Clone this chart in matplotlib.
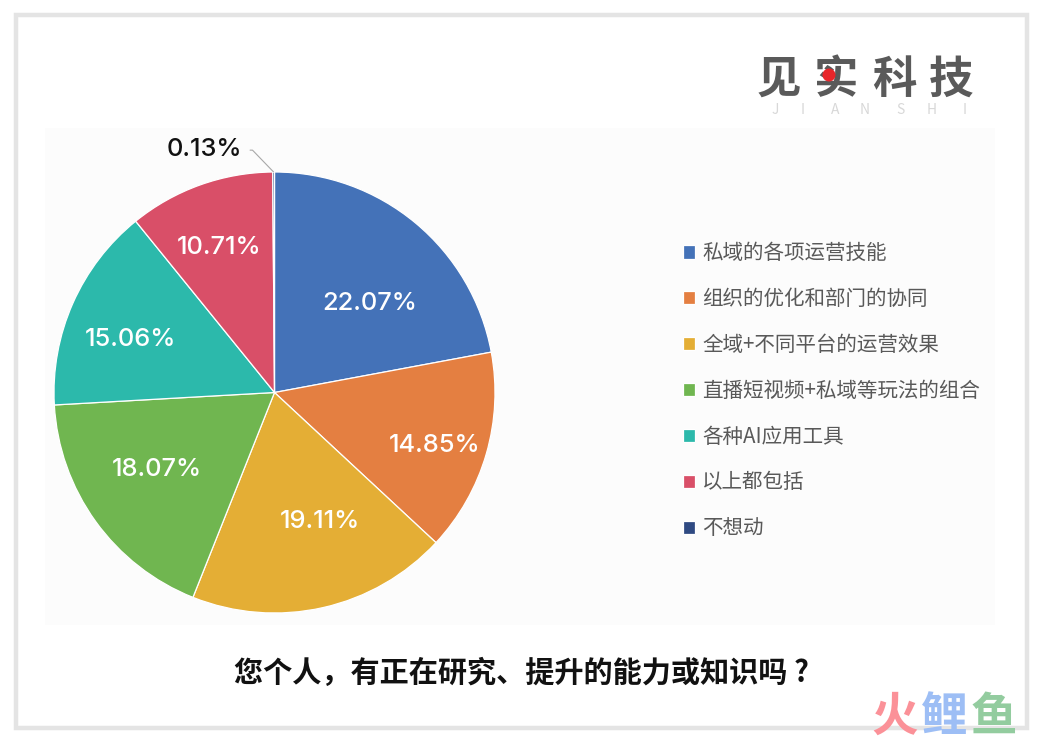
import numpy as np
import matplotlib
matplotlib.use("Agg")
import matplotlib.pyplot as plt
from matplotlib.patches import Rectangle, Circle

categories = ["私域的各项运营技能", "组织的优化和部门的协同", "全域+不同平台的运营效果",
              "直播短视频+私域等玩法的组合", "各种AI应用工具", "以上都包括", "不想动"]
values = [22.07, 14.85, 19.11, 18.07, 15.06, 10.71, 0.13]
colors = ["#4472B8", "#E47F41", "#E4AE35", "#70B650", "#2CB9AB", "#D94F68", "#2F4A82"]
title = "您个人，有正在研究、提升的能力或知识吗 ?"

W, H = 1040, 740
CJK = ["Noto Sans CJK SC", "DejaVu Sans"]
plt.rcParams["font.family"] = CJK

fig = plt.figure(figsize=(W / 100, H / 100), dpi=100, facecolor="white")

# overlay canvas in pixel units
bg = fig.add_axes([0, 0, 1, 1], zorder=0)
bg.set_xlim(0, W); bg.set_ylim(H, 0); bg.axis("off")
bg.add_patch(Rectangle((45, 128), 950, 497, fc="#FCFCFC", ec="none"))
bg.add_patch(Rectangle((15.5, 15), 1011.5, 713, fc="none", ec="#E4E4E4", lw=3.2))

# pie
cx, cy, R = 274.5, 392.5, 220.5
ax = fig.add_axes([(cx - R) / W, 1 - (cy + R) / H, 2 * R / W, 2 * R / H], zorder=1)
wedges, _, autotexts = ax.pie(
    values, colors=colors, startangle=90, counterclock=False, radius=1,
    autopct="%.2f%%", pctdistance=0.6,
    wedgeprops=dict(edgecolor="white", linewidth=0.9),
    textprops=dict(color="white", fontsize=18.3, family="Inter", fontweight="medium"),
)
ax.set_xlim(-1, 1); ax.set_ylim(-1, 1)
for a in ax.patches:
    a.set_clip_on(False)

# hand-placed percentage labels, as in the reference (pixel centres)
label_px = [(370, 303), (435, 445), (320, 521), (157, 469), (130, 340), (219, 248)]
for t, (px, py) in zip(autotexts, label_px):
    t.set_position(((px - cx) / R, (cy - py) / R))

# the tiny slice is labelled outside
autotexts[-1].set_visible(False)
w = wedges[-1]
mid = np.deg2rad((w.theta1 + w.theta2) / 2)
ax.annotate(f"{values[-1]:.2f}%", xy=(np.cos(mid), np.sin(mid)),
            xytext=((204 - cx) / R, (cy - 149) / R),
            ha="center", va="center", fontsize=18.3, family="Inter", fontweight="medium",
            color="#111111", annotation_clip=False,
            arrowprops=dict(arrowstyle="-", color="#A8A8A8", lw=0.8, shrinkA=4, shrinkB=0,
                            connectionstyle="angle,angleA=0,angleB=-46,rad=0",
                            relpos=(1.0, 0.45)))

# legend
leg = fig.legend(wedges, categories, loc="upper left", bbox_to_anchor=(674.5 / W, 1 - 234 / H),
                 frameon=False, fontsize=14.8, handlelength=0.6, handleheight=0.6,
                 handletextpad=0.36, labelspacing=1.16, labelcolor="#595959",
                 borderpad=0.4, borderaxespad=0)

# top canvas for title & logos
top = fig.add_axes([0, 0, 1, 1], zorder=2)
top.set_xlim(0, W); top.set_ylim(H, 0); top.axis("off"); top.patch.set_alpha(0)
top.text(521.5, 673, title, ha="center", va="center", fontsize=21, fontweight="bold", color="#111111")

for ch, x in zip("见实科技", [779, 836, 894, 951]):
    top.text(x, 80, ch, ha="center", va="center", fontsize=32, fontweight="bold", color="#5A5A5A")
top.add_patch(Circle((829, 75), 6.5, fc="#E8262A", ec="none", zorder=5))
for ch, x in zip("JIANSHI", [775, 803, 835, 865, 900, 932, 965]):
    top.text(x, 110, ch, ha="center", va="center", fontsize=10, color="#D8D8D8", fontweight="light")

for ch, x, c in zip("火鲤鱼", [895, 944, 994], ["#FB9198", "#9DBEF5", "#93CC9F"]):
    top.text(x, 717, ch, ha="center", va="center", fontsize=33.5, fontweight=900, color=c)

fig.savefig("out.png", dpi=100, facecolor="white")
